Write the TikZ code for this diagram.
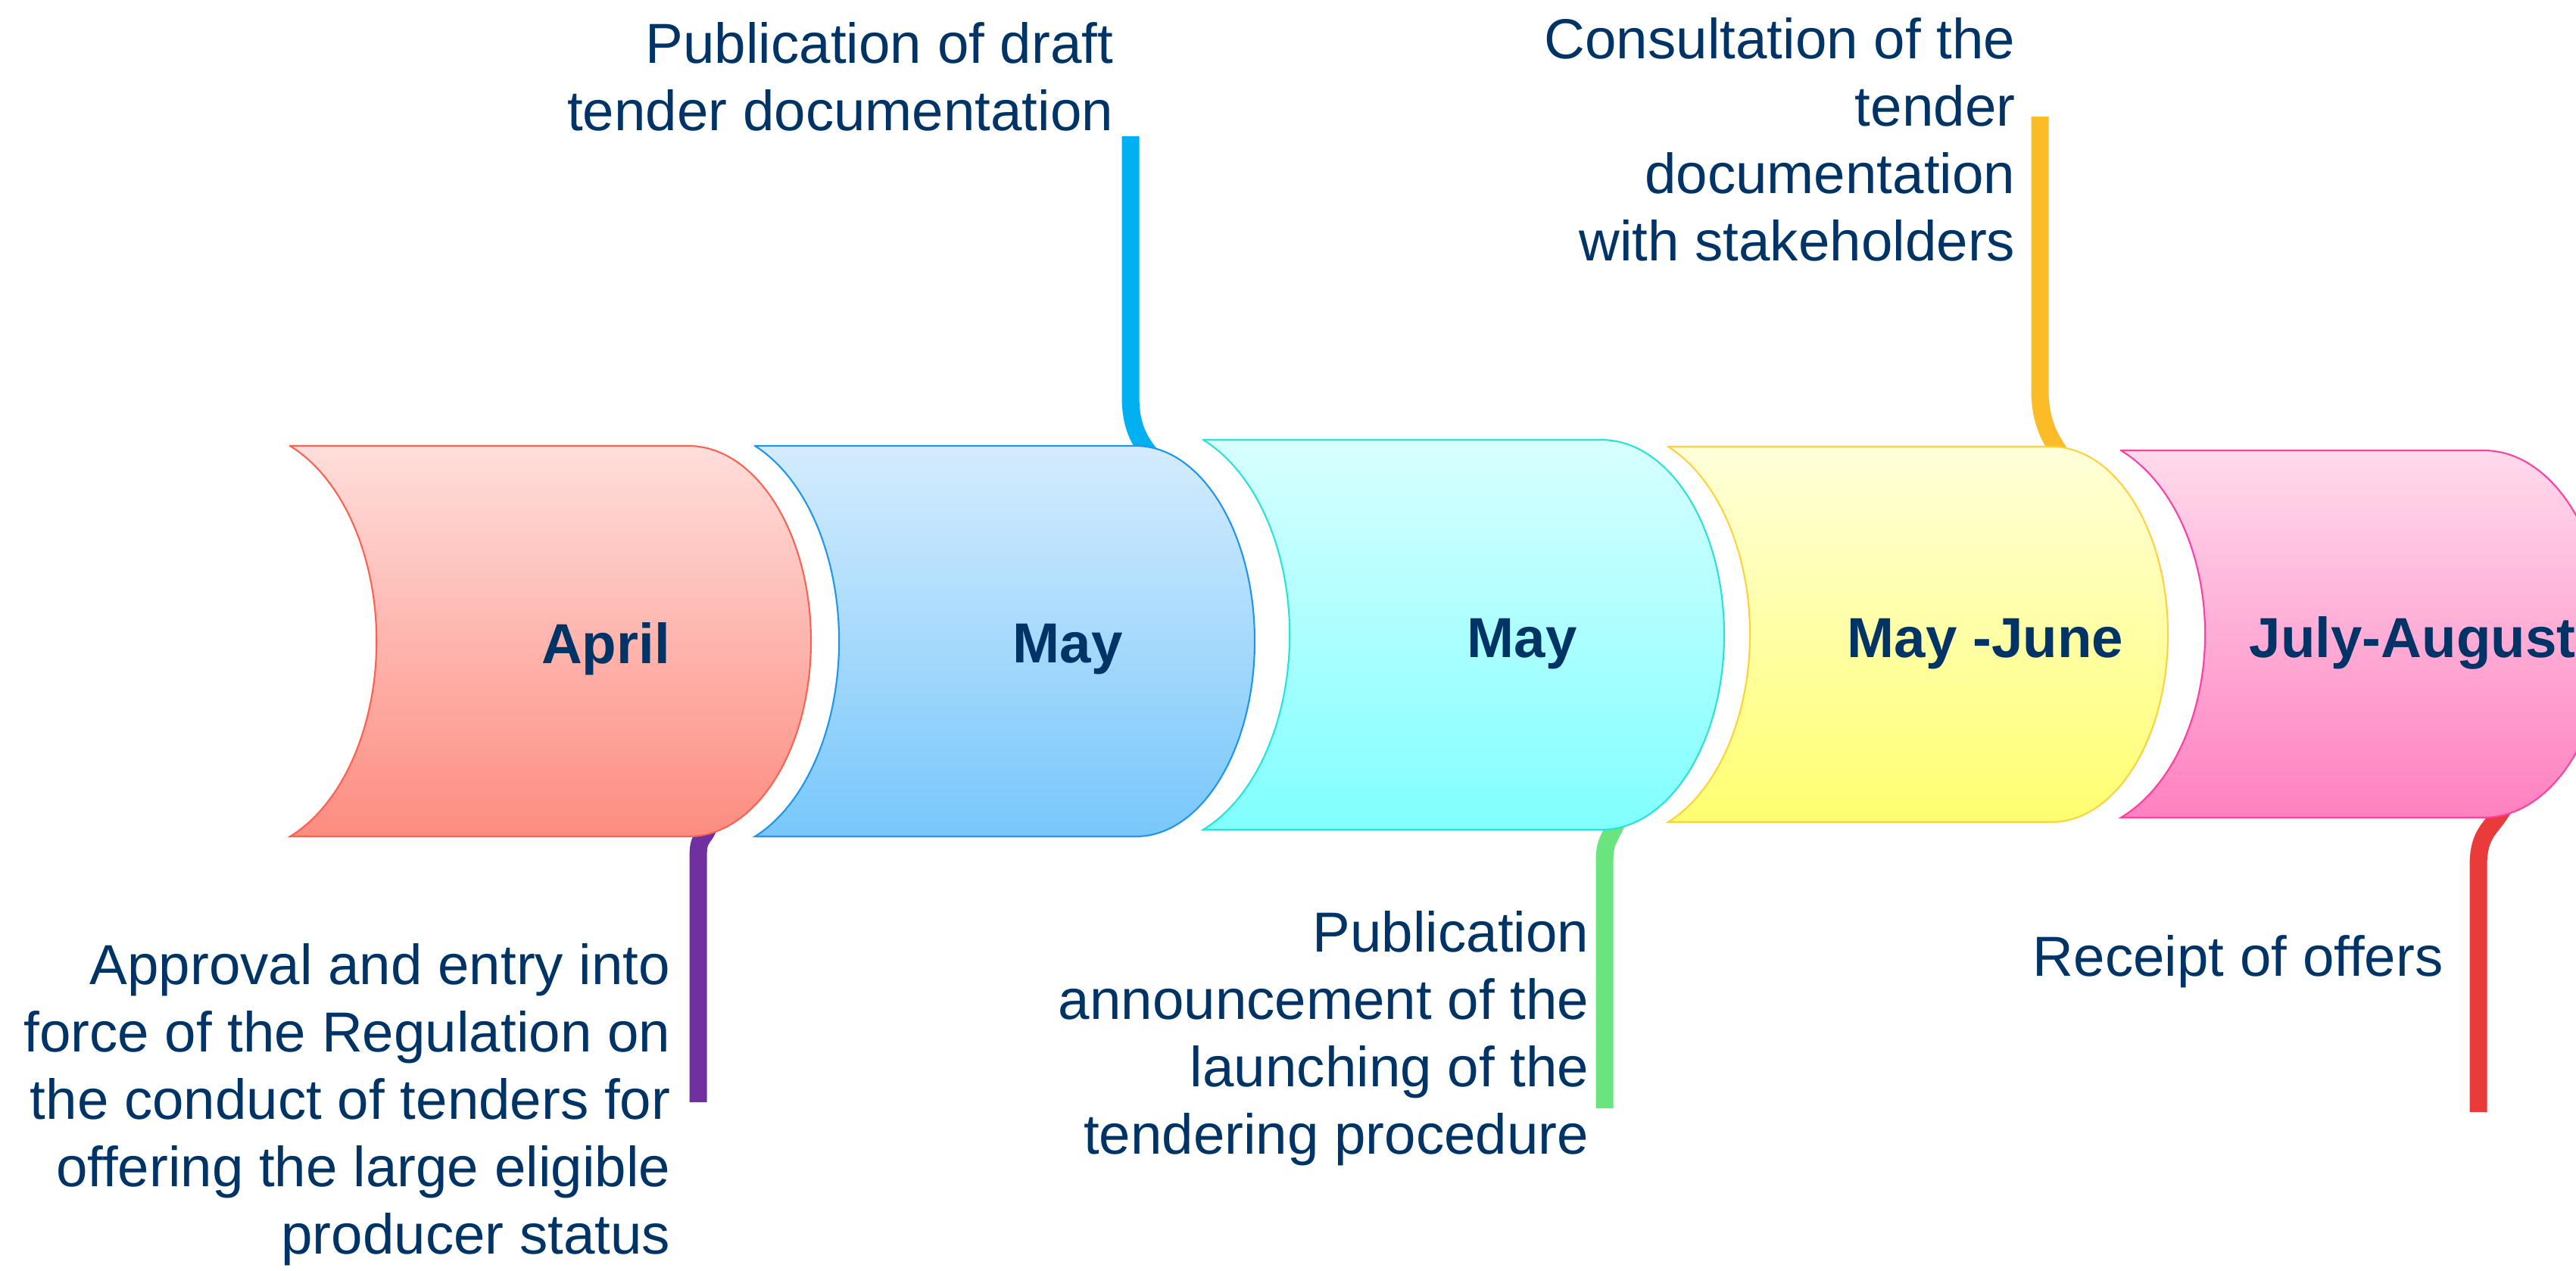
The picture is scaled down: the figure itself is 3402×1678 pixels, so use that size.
\documentclass[tikz,border=0pt]{standalone}
\usepackage{fontspec}
\setmainfont{Liberation Sans}
\usetikzlibrary{calc}
\definecolor{navy}{RGB}{0,51,102}
\definecolor{aprtop}{RGB}{255,222,219}
\definecolor{aprbot}{RGB}{253,140,128}
\definecolor{aprrim}{RGB}{255,96,80}
\definecolor{maytop}{RGB}{212,236,253}
\definecolor{maybot}{RGB}{120,199,252}
\definecolor{mayrim}{RGB}{30,150,240}
\definecolor{cyntop}{RGB}{216,255,255}
\definecolor{cynbot}{RGB}{128,255,255}
\definecolor{cynrim}{RGB}{40,228,216}
\definecolor{yeltop}{RGB}{255,255,218}
\definecolor{yelbot}{RGB}{255,255,112}
\definecolor{yelrim}{RGB}{255,210,60}
\definecolor{pnktop}{RGB}{255,218,236}
\definecolor{pnkbot}{RGB}{255,128,192}
\definecolor{pnkrim}{RGB}{255,64,160}
\definecolor{leadpurple}{RGB}{112,48,160}
\definecolor{leadblue}{RGB}{0,176,240}
\definecolor{leadgreen}{RGB}{106,228,126}
\definecolor{leadorange}{RGB}{251,188,40}
\definecolor{leadred}{RGB}{234,59,59}
\tikzset{
  month/.style={font=\fontsize{21.2pt}{25.3pt}\selectfont\bfseries,text=navy,
                inner sep=0pt,anchor=base},
  note/.style={font=\fontsize{21.2pt}{25.3pt}\selectfont,text=navy,
               inner sep=0pt,align=right,anchor=base east},
  lead/.style={line width=0.23cm,#1},
}
% left, straight end, top, bottom, bulge (px), top colour, bottom colour, rim colour
\newcommand\tube[8]{
  \pgfmathsetmacro\hh{(#4-#3)/2}
  \pgfmathsetmacro\tang{asin(\hh/(\hh+20))}
  \draw[line width=0.6pt,draw=#8,top color=#6,bottom color=#7]
    (#1,-#3) -- (#2,-#3)
    arc[start angle=90,end angle=-90,x radius=#5*0.01cm,y radius=\hh*0.01cm]
    -- (#1,-#4)
    arc[start angle=-\tang,end angle=\tang,
        x radius={(#5+20)*0.01cm},y radius={(\hh+20)*0.01cm}] -- cycle;
}

\begin{document}
\begin{tikzpicture}[x=0.01cm,y=0.01cm]
  \clip (0,0) rectangle (3402,-1678);

  % ATTACH POINTS
  \coordinate (a1) at (936,-1092);
  \coordinate (a2) at (1522,-604);
  \coordinate (a3) at (2136,-1084);
  \coordinate (a4) at (2724,-604);
  \coordinate (a5) at (3306,-1068);
  \coordinate (e1) at (922,-1456);
  \coordinate (e2) at (1493,-180);
  \coordinate (e3) at (2119,-1464);
  \coordinate (e4) at (2694,-154);
  \coordinate (e5) at (3273,-1469);

  % LEADERS
  \draw[lead=leadpurple] (e1) -- ++(0,322) .. controls +(0,30) and +(-8,-20) .. (a1);
  \draw[lead=leadblue] (e2) -- ++(0,-343) .. controls +(0,-40) and +(-18,22) .. (a2);
  \draw[lead=leadgreen] (e3) -- ++(0,326) .. controls +(0,30) and +(-8,-22) .. (a3);
  \draw[lead=leadorange] (e4) -- ++(0,-360) .. controls +(0,-45) and +(-16,24) .. (a4);
  \draw[lead=leadred] (e5) -- ++(0,325) .. controls +(0,45) and +(-16,-28) .. (a5);

  % TUBES
  \tube{383}{909}{589}{1105}{162}{aprtop}{aprbot}{aprrim}
  \tube{997}{1500}{589}{1105}{157}{maytop}{maybot}{mayrim}
  \tube{1589}{2115}{581}{1096}{162}{cyntop}{cynbot}{cynrim}
  \tube{2203}{2709}{590}{1086}{154}{yeltop}{yelbot}{yelrim}
  \tube{2801}{3280}{595}{1080}{160}{pnktop}{pnkbot}{pnkrim}

  % MONTHS
  \node[month] (m1) at (800,-876) {April};
  \node[month] (m2) at (1410,-875) {May};
  \node[month] (m3) at (2010,-868) {May};
  \node[month] (m4) at (2622,-868) {May -June};
  \node[month,anchor=base west] (m5) at (2970,-868) {July-August};

  % NOTES (anchored at the last line)
  \node[note] (n1) at (1471,-172) {Publication of draft\\tender documentation};
  \node[note] (n2) at (2662,-344) {Consultation of the\\tender\\documentation\\with stakeholders};
  \node[note] (n3) at (886,-1656) {Approval and entry into\\force of the Regulation on\\the conduct of tenders for\\offering the large eligible\\producer status};
  \node[note] (n4) at (2099,-1524) {Publication\\announcement of the\\launching of the\\tendering procedure};
  \node[note] (n5) at (3227,-1289) {Receipt of offers};
\end{tikzpicture}
\end{document}
